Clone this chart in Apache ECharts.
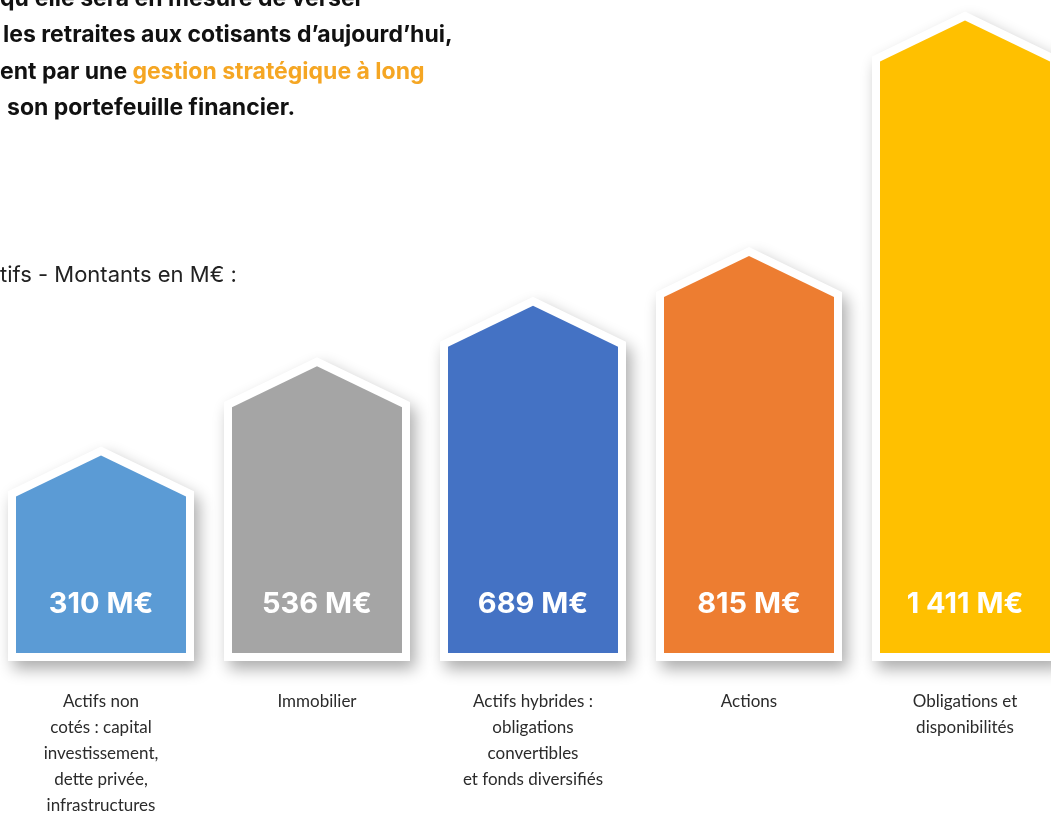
<!DOCTYPE html>
<html>
<head>
<meta charset="utf-8">
<script src="https://cdn.jsdelivr.net/npm/echarts@6/dist/echarts.min.js"></script>
<style>
  html, body { margin: 0; padding: 0; background: #fff; }
  #main { width: 1051px; height: 813px; }
</style>
</head>
<body>
<div id="main"></div>
<script>
// données
var categories = [
  'Actifs non\ncotés : capital\ninvestissement,\ndette privée,\ninfrastructures',
  'Immobilier',
  'Actifs hybrides :\nobligations\nconvertibles\net fonds diversifiés',
  'Actions',
  'Obligations et\ndisponibilités'
];
var values = [310, 536, 689, 815, 1411];
var valueLabels = ['310 M€', '536 M€', '689 M€', '815 M€', '1 411 M€'];
var colors = ['#5B9BD5', '#A5A5A5', '#4472C4', '#ED7D31', '#FFC000'];

var yMin = -190;
var FONT = 'Inter, Lato, sans-serif';
var LABEL_FONT = 'Lato, "Open Sans", sans-serif';

var chart = echarts.init(document.getElementById('main'));

function renderHouse(params, api) {
  var i = api.value(0);
  var top = api.coord([i, api.value(1)]);
  var base = api.coord([i, yMin]);
  var cx = top[0], ty = top[1], by = base[1];
  var half = 85, roof = 41, b = 8;
  var slope = roof / half;
  var outer = [
    [cx, ty - 9],
    [cx + half + b, ty - 9 + (half + b) * slope],
    [cx + half + b, by + b],
    [cx - half - b, by + b],
    [cx - half - b, ty - 9 + (half + b) * slope]
  ];
  var inner = [
    [cx, ty],
    [cx + half, ty + roof],
    [cx + half, by],
    [cx - half, by],
    [cx - half, ty + roof]
  ];
  return {
    type: 'group',
    children: [
      {
        type: 'polygon',
        shape: { points: outer },
        style: {
          fill: '#ffffff',
          shadowBlur: 16,
          shadowOffsetX: 5,
          shadowOffsetY: 8,
          shadowColor: 'rgba(0,0,0,0.33)'
        }
      },
      {
        type: 'polygon',
        shape: { points: inner },
        style: { fill: colors[params.dataIndex] }
      },
      {
        type: 'text',
        x: cx,
        y: by - 49,
        style: {
          text: valueLabels[params.dataIndex],
          fill: '#ffffff',
          font: 'bold 29px ' + FONT,
          textAlign: 'center',
          textVerticalAlign: 'middle'
        }
      }
    ]
  };
}

chart.setOption({
  backgroundColor: '#ffffff',
  animation: false,
  grid: { left: -7, width: 1080, bottom: 160, top: 21, outerBoundsMode: 'none', containLabel: false },
  xAxis: {
    type: 'category',
    data: categories,
    axisLine: { show: false },
    axisTick: { show: false },
    axisLabel: {
      interval: 0,
      margin: 36,
      color: '#2b2b2b',
      fontFamily: LABEL_FONT,
      fontSize: 17,
      lineHeight: 26,
      verticalAlign: 'top'
    }
  },
  yAxis: {
    type: 'value',
    min: yMin,
    max: 1410,
    show: false
  },
  graphic: [
    { type: 'text', left: 0, top: -12, style: { text: 'qu’elle sera en mesure de verser', font: 'bold 23px ' + FONT, fill: '#111' } },
    { type: 'text', left: 3, top: 24, style: { text: 'les retraites aux cotisants d’aujourd’hui,', font: 'bold 23px ' + FONT, fill: '#111' } },
    { type: 'text', left: 0, top: 61, style: {
        rich: {
          k: { font: 'bold 23px ' + FONT, fill: '#111' },
          o: { font: 'bold 23px ' + FONT, fill: '#F5A623' }
        },
        text: '{k|ent par une }{o|gestion stratégique à long}'
      } },
    { type: 'text', left: 7, top: 97, style: { text: 'son portefeuille financier.', font: 'bold 23px ' + FONT, fill: '#111' } },
    { type: 'text', left: 0, top: 264, style: { text: 'tifs - Montants en M€ :', font: '22px ' + FONT, fill: '#222' } }
  ],
  series: [{
    type: 'custom',
    clip: false,
    renderItem: renderHouse,
    data: values.map(function (v, i) { return [i, v]; })
  }]
});
</script>
</body>
</html>
